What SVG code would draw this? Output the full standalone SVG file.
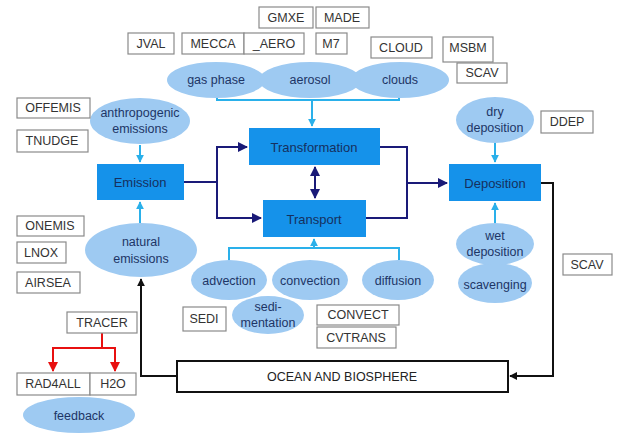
<svg xmlns="http://www.w3.org/2000/svg" width="621" height="434" viewBox="0 0 621 434">
<style>
text{font-family:"Liberation Sans",Arial,sans-serif;font-size:12.5px;text-anchor:middle;dominant-baseline:central}
.lb rect{fill:#fff;stroke:#8a8a8a;stroke-width:1.2}
.lb text{fill:#333}
.el ellipse{fill:#9ecaf2}
.el text{fill:#1d3566}
.bx rect{fill:#1592ea}
.bx text{fill:#16305e;font-size:13px}
.nv{stroke:#1a1a78;stroke-width:2;fill:none}
.cy{stroke:#2ab0ea;stroke-width:2;fill:none}
.bk{stroke:#111;stroke-width:2;fill:none}
.rd{stroke:#e81010;stroke-width:2;fill:none}
</style>
<defs>
<marker id="an" viewBox="0 0 10 10" refX="9" refY="5" markerWidth="5" markerHeight="5" orient="auto-start-reverse"><path d="M0,0L10,5L0,10z" fill="#1a1a78"/></marker>
<marker id="ac" viewBox="0 0 10 10" refX="9" refY="5" markerWidth="4" markerHeight="4" orient="auto"><path d="M0,0L10,5L0,10z" fill="#2ab0ea"/></marker>
<marker id="ab" viewBox="0 0 10 10" refX="9" refY="5" markerWidth="4" markerHeight="4" orient="auto"><path d="M0,0L10,5L0,10z" fill="#111"/></marker>
<marker id="ar" viewBox="0 0 10 10" refX="9" refY="5" markerWidth="5" markerHeight="5" orient="auto"><path d="M0,0L10,5L0,10z" fill="#e81010"/></marker>
</defs>

<g id="connectors">
<path class="cy" d="M217,96V100H399V96M312,100V126" marker-end="url(#ac)"/>
<path class="cy" d="M229,260V248H399V260M314,248V239" marker-end="url(#ac)"/>
<path class="cy" d="M140,145V162" marker-end="url(#ac)"/>
<path class="cy" d="M140,223V202" marker-end="url(#ac)"/>
<path class="cy" d="M495,143V162" marker-end="url(#ac)"/>
<path class="cy" d="M495,225V203" marker-end="url(#ac)"/>
<path class="nv" d="M184,182H217V147H247" marker-end="url(#an)"/>
<path class="nv" d="M217,182V218H261" marker-end="url(#an)"/>
<path class="nv" d="M380,147H407V218H366"/>
<path class="nv" d="M407,183H447" marker-end="url(#an)"/>
<path class="nv" d="M315,167V198" marker-start="url(#an)" marker-end="url(#an)"/>
<path class="bk" d="M541,183H553V376H510" marker-end="url(#ab)"/>
<path class="bk" d="M177,376H141V279" marker-end="url(#ab)"/>
<path class="rd" d="M102,333V348H53V371" marker-end="url(#ar)"/>
<path class="rd" d="M102,348H115V371" marker-end="url(#ar)"/>
</g>

<g id="gas_phase" class="el"><ellipse cx="216" cy="80" rx="49" ry="18"/><text x="216" y="80">gas phase</text></g>
<g id="clouds" class="el"><ellipse cx="400" cy="80" rx="49" ry="18"/><text x="400" y="80">clouds</text></g>
<g id="aerosol" class="el"><ellipse cx="310" cy="80" rx="51" ry="18"/><text x="310" y="80">aerosol</text></g>

<g id="anthropogenic" class="el"><ellipse cx="140" cy="121" rx="50" ry="23"/><text x="140" y="113">anthropogenic</text><text x="140" y="129">emissions</text></g>
<g id="natural" class="el"><ellipse cx="141" cy="250" rx="56" ry="27"/><text x="141" y="242">natural</text><text x="141" y="259">emissions</text></g>
<g id="dry" class="el"><ellipse cx="495" cy="120" rx="39" ry="23"/><text x="495" y="112">dry</text><text x="495" y="128">deposition</text></g>
<g id="scavenging" class="el"><ellipse cx="495" cy="283" rx="37" ry="20"/><text x="495" y="285">scavenging</text></g>
<g id="wet" class="el"><ellipse cx="495" cy="244" rx="39" ry="21"/><text x="495" y="236">wet</text><text x="495" y="252">deposition</text></g>
<g id="advection" class="el"><ellipse cx="229" cy="280" rx="38" ry="20"/><text x="229" y="281">advection</text></g>
<g id="convection" class="el"><ellipse cx="310" cy="280" rx="38" ry="20"/><text x="310" y="281">convection</text></g>
<g id="diffusion" class="el"><ellipse cx="398" cy="280" rx="36" ry="20"/><text x="398" y="281">diffusion</text></g>
<g id="sedimentation" class="el"><ellipse cx="268" cy="315" rx="36" ry="19"/><text x="268" y="307">sedi-</text><text x="268" y="323">mentation</text></g>
<g id="feedback" class="el"><ellipse cx="79" cy="415" rx="56" ry="18"/><text x="79" y="416">feedback</text></g>

<g id="emission" class="bx"><rect x="97" y="164" width="87" height="36"/><text x="140" y="182">Emission</text></g>
<g id="transformation" class="bx"><rect x="249" y="128" width="131" height="37"/><text x="314" y="147">Transformation</text></g>
<g id="transport" class="bx"><rect x="263" y="200" width="103" height="37"/><text x="314" y="219">Transport</text></g>
<g id="deposition" class="bx"><rect x="449" y="164" width="92" height="37"/><text x="495" y="183">Deposition</text></g>

<g id="ocean"><rect x="177" y="361" width="331" height="31" fill="#fff" stroke="#111" stroke-width="2"/><text x="342" y="377" fill="#222">OCEAN AND BIOSPHERE</text></g>

<g id="GMXE" class="lb"><rect x="259" y="7" width="54" height="21"/><text x="286" y="18">GMXE</text></g>
<g id="MADE" class="lb"><rect x="316" y="7" width="53" height="21"/><text x="342" y="18">MADE</text></g>
<g id="JVAL" class="lb"><rect x="128" y="33" width="46" height="21"/><text x="151" y="44">JVAL</text></g>
<g id="MECCA" class="lb"><rect x="182" y="33" width="62" height="21"/><text x="213" y="44">MECCA</text></g>
<g id="AERO" class="lb"><rect x="244" y="33" width="60" height="21"/><text x="274" y="44">_AERO</text></g>
<g id="M7" class="lb"><rect x="316" y="33" width="31" height="21"/><text x="331" y="44">M7</text></g>
<g id="CLOUD" class="lb"><rect x="371" y="37" width="61" height="21"/><text x="401" y="48">CLOUD</text></g>
<g id="MSBM" class="lb"><rect x="443" y="37" width="50" height="25"/><text x="468" y="48">MSBM</text></g>
<g id="SCAV_top" class="lb"><rect x="457" y="63" width="50" height="20"/><text x="482" y="73">SCAV</text></g>
<g id="OFFEMIS" class="lb"><rect x="17" y="98" width="73" height="20"/><text x="53" y="108">OFFEMIS</text></g>
<g id="TNUDGE" class="lb"><rect x="17" y="130" width="71" height="22"/><text x="52" y="141">TNUDGE</text></g>
<g id="ONEMIS" class="lb"><rect x="17" y="216" width="67" height="20"/><text x="50" y="226">ONEMIS</text></g>
<g id="LNOX" class="lb"><rect x="17" y="242" width="49" height="21"/><text x="41" y="253">LNOX</text></g>
<g id="AIRSEA" class="lb"><rect x="17" y="272" width="63" height="21"/><text x="48" y="283">AIRSEA</text></g>
<g id="DDEP" class="lb"><rect x="541" y="111" width="52" height="22"/><text x="567" y="122">DDEP</text></g>
<g id="SCAV_right" class="lb"><rect x="563" y="254" width="49" height="21"/><text x="587" y="265">SCAV</text></g>
<g id="SEDI" class="lb"><rect x="183" y="307" width="43" height="24"/><text x="204" y="319">SEDI</text></g>
<g id="CONVECT" class="lb"><rect x="317" y="305" width="82" height="20"/><text x="358" y="315">CONVECT</text></g>
<g id="CVTRANS" class="lb"><rect x="317" y="327" width="79" height="21"/><text x="356" y="338">CVTRANS</text></g>
<g id="TRACER" class="lb"><rect x="67" y="312" width="70" height="21"/><text x="102" y="323">TRACER</text></g>
<g id="RAD4ALL" class="lb"><rect x="17" y="373" width="73" height="22"/><text x="53" y="384">RAD4ALL</text></g>
<g id="H2O" class="lb"><rect x="90" y="373" width="46" height="22"/><text x="113" y="384">H2O</text></g>
</svg>
